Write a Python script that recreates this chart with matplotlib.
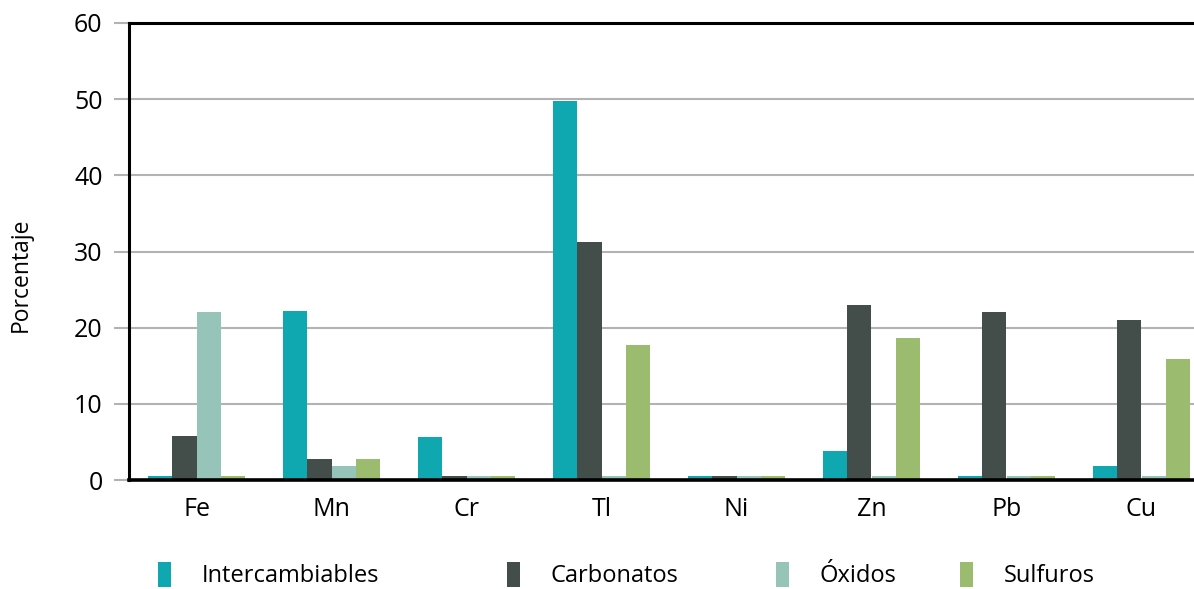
import matplotlib
matplotlib.use("Agg")
import matplotlib.pyplot as plt
import numpy as np
from matplotlib.patches import Patch

plt.rcParams['font.family'] = ['Open Sans', 'DejaVu Sans']

categories = ["Fe", "Mn", "Cr", "Tl", "Ni", "Zn", "Pb", "Cu"]
series_names = ["Intercambiables", "Carbonatos", "Óxidos", "Sulfuros"]
intercambiables = [0.5, 22.2, 5.7, 49.8, 0.5, 3.8, 0.5, 1.9]
carbonatos = [5.8, 2.8, 0.5, 31.2, 0.5, 23.0, 22.1, 21.0]
oxidos = [22.1, 1.9, 0.5, 0.5, 0.5, 0.5, 0.5, 0.5]
sulfuros = [0.5, 2.8, 0.5, 17.7, 0.5, 18.6, 0.5, 15.9]
y_ticks = [0, 10, 20, 30, 40, 50, 60]

colors = ["#10a8b0", "#434d4a", "#96c4b8", "#9bbb6f"]
data = [intercambiables, carbonatos, oxidos, sulfuros]

fig = plt.figure(figsize=(11.94, 5.89), dpi=100)
ax = fig.add_axes([129/1194, 1-480/589, 1080/1194, 457/589])

x = np.arange(len(categories))
w = 0.178
for i, (vals, c) in enumerate(zip(data, colors)):
    ax.bar(x + (i - 1.5) * w, vals, width=w, color=c, zorder=3, linewidth=0)

ax.set_xlim(-0.5, len(categories) - 0.5)
ax.set_ylim(0, 60)
ax.set_yticks(y_ticks)
ax.set_yticklabels([str(t) for t in y_ticks], fontsize=18)
ax.set_xticks(x)
ax.set_xticklabels(categories, fontsize=18)
ax.tick_params(axis='x', length=0, pad=12)
ax.tick_params(axis='y', length=11, width=1.5, color='#b3b3b3', pad=8)
ticks = ax.yaxis.get_major_ticks()
ticks[0].tick1line.set_color('#444444')
ticks[-1].tick1line.set_color('#444444')

ax.yaxis.grid(True, color='#b3b3b3', linewidth=1.5, zorder=0)
ax.set_axisbelow(True)
ax.spines['right'].set_visible(False)
ax.spines['top'].set_color('black')
ax.spines['top'].set_linewidth(2.2)
ax.spines['left'].set_linewidth(2.2)
ax.spines['bottom'].set_linewidth(2.6)
ax.spines['left'].set_zorder(5)
ax.spines['bottom'].set_zorder(5)

fig.text(21/1194, 1-275/589, "Porcentaje", rotation=90, fontsize=16.5,
         ha='center', va='center')

legend_x = [158, 507, 776, 960]
for name, c, lx in zip(series_names, colors, legend_x):
    fig.legend(handles=[Patch(facecolor=c, label=name)], loc='center left',
               bbox_to_anchor=(lx/1194, 1-575/589), frameon=False,
               fontsize=17, handlelength=0.56, handleheight=1.25,
               handletextpad=1.3, borderpad=0, borderaxespad=0)

fig.savefig("out.png", dpi=100)
